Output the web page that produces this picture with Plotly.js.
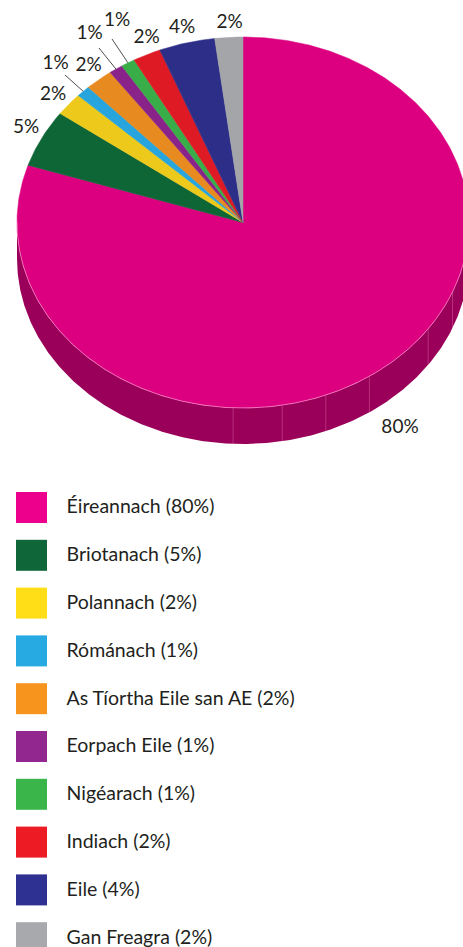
<!DOCTYPE html>
<html><head><meta charset="utf-8">
<script src="https://cdn.plot.ly/plotly-3.0.1.min.js"></script>
<style>html,body{margin:0;padding:0;background:#fff;overflow:hidden}</style>
</head><body><div id="chart" style="width:463px;height:947px"></div>
<script>
// ---- data ----
const categories = ['Éireannach','Briotanach','Polannach','Rómánach','As Tíortha Eile san AE','Eorpach Eile','Nigéarach','Indiach','Eile','Gan Freagra'];
const values = [80,5,2,1,2,1,1,2,4,2];
const sliceLabels = values.map(v => v + '%');
const legendLabels = categories.map((c,i) => c + ' (' + values[i] + '%)');

// ---- style ----
const faceColors   = ['#DC0081','#0E6536','#EDC91B','#27A5DC','#E78A1F','#8A2389','#38AD48','#DE1B24','#2C2E87','#A3A5A8'];
const legendColors = ['#EC008C','#0E6639','#FFDE17','#27AAE1','#F7941D','#92278F','#39B54A','#ED1C24','#2E3192','#A7A9AC'];
const sideColors   = ['#9A0059','#07401F','#9A820F','#1A6E92','#985913','#5A1659','#247231','#921217','#1C1D59','#6B6D70'];
const FONT = 'Lato, "Open Sans", sans-serif';
const TEXT = '#231F20';
const CX = 243, CY = 222.5, RX = 226, RY = 185.5, DEPTH = 36;
// label anchor points (pixel space) and which labels get a leader line
const labelXY = [[400,428],[26,128],[53,95],[55.5,64],[88.5,66],[89.5,34],[117,21.5],[146.5,38.5],[182,28.5],[229.5,23]];
const leaderStart = {3:[65,75], 5:[99,48], 6:[112,39]};
const sideSeams = [112, 125, 146, 158.5, 170, 182.5];
const LEG_X = 31.5, LEG_Y0 = 507.5, LEG_DY = 47.8, LEG_TX = 66.5;

function pt(theta, dy) {
  const a = theta * Math.PI / 180;
  return [CX + RX * Math.sin(a), CY - RY * Math.cos(a) + (dy || 0)];
}
function arc(a0, a1, dy) {
  const n = Math.max(2, Math.ceil(Math.abs(a1 - a0) * 2));
  const xs = [], ys = [];
  for (let k = 0; k <= n; k++) {
    const p = pt(a0 + (a1 - a0) * k / n, dy);
    xs.push(p[0]); ys.push(p[1]);
  }
  return [xs, ys];
}

const total = values.reduce((s,v) => s + v, 0);
const starts = [], ends = [];
let acc = 0;
values.forEach(v => { starts.push(acc / total * 360); acc += v; ends.push(acc / total * 360); });

const traces = [];
// side walls (visible front half: 90..270 deg)
values.forEach((v,i) => {
  const s = Math.max(starts[i], 90), e = Math.min(ends[i], 270);
  if (e <= s) return;
  const top = arc(s, e, 0), bot = arc(e, s, DEPTH);
  traces.push({type:'scatter', mode:'lines', x: top[0].concat(bot[0]), y: top[1].concat(bot[1]),
    fill:'toself', fillcolor: sideColors[i], line:{width:0, color: sideColors[i]}, hoverinfo:'skip', showlegend:false});
});
// faint seams on the side wall
sideSeams.forEach(a => {
  const p = pt(a, 0), q = pt(a, DEPTH);
  traces.push({type:'scatter', mode:'lines', x:[p[0], q[0]], y:[p[1], q[1]],
    line:{width:0.7, color:'rgba(255,150,205,0.45)'}, hoverinfo:'skip', showlegend:false});
});
// top faces
values.forEach((v,i) => {
  const a = arc(starts[i], ends[i], 0);
  traces.push({type:'scatter', mode:'lines', x: [CX].concat(a[0], [CX]), y: [CY].concat(a[1], [CY]),
    fill:'toself', fillcolor: faceColors[i], line:{width:0.5, color: faceColors[i]}, hoverinfo:'skip', showlegend:false});
});
// rim highlight
{
  const r = arc(90, 270, 0);
  traces.push({type:'scatter', mode:'lines', x:r[0], y:r[1], line:{width:0.8, color:'rgba(255,170,215,0.75)'}, hoverinfo:'skip', showlegend:false});
}
// leader lines
Object.keys(leaderStart).forEach(k => {
  const i = +k, mid = (starts[i] + ends[i]) / 2, p = pt(mid, 0);
  traces.push({type:'scatter', mode:'lines', x:[leaderStart[i][0], p[0]], y:[leaderStart[i][1], p[1]],
    line:{width:0.8, color:'#231F20'}, hoverinfo:'skip', showlegend:false});
});
// slice labels
traces.push({type:'scatter', mode:'text', x: labelXY.map(p=>p[0]), y: labelXY.map(p=>p[1]), text: sliceLabels,
  textposition:'middle center', textfont:{family:FONT, size:19, color:TEXT}, hoverinfo:'skip', showlegend:false, cliponaxis:false});
// legend swatches
traces.push({type:'scatter', mode:'markers', x: categories.map(()=>LEG_X), y: categories.map((c,i)=>LEG_Y0 + i*LEG_DY),
  marker:{symbol:'square', size:31, color: legendColors, line:{width:0}}, hoverinfo:'skip', showlegend:false, cliponaxis:false});
traces.push({type:'scatter', mode:'text', x: categories.map(()=>LEG_TX), y: categories.map((c,i)=>LEG_Y0 + 1 + i*LEG_DY),
  text: legendLabels, textposition:'middle right', marker:{size:1}, textfont:{family:FONT, size:19.5, color:TEXT},
  hoverinfo:'skip', showlegend:false, cliponaxis:false});

const layout = {
  width:463, height:947, margin:{l:0,r:0,t:0,b:0,pad:0},
  paper_bgcolor:'#fff', plot_bgcolor:'#fff', showlegend:false,
  xaxis:{range:[0,463], visible:false, fixedrange:true},
  yaxis:{range:[947,0], visible:false, fixedrange:true},
  font:{family:FONT}
};
Plotly.newPlot('chart', traces, layout, {staticPlot:true, displayModeBar:false});
</script>
</body></html>
